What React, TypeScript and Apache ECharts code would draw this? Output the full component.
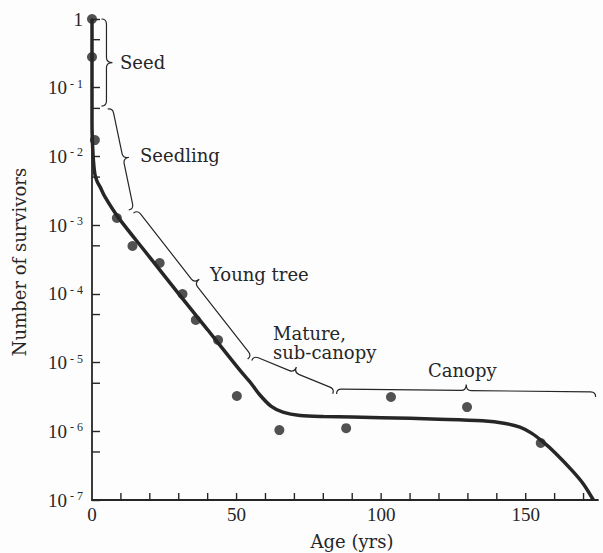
import { useEffect, useRef } from "react";
import * as echarts from "echarts";

// Observed survivors (dots)
const OBS_AGE = [0, 0, 1, 8.6, 14, 23.4, 31.3, 35.9, 43.6, 50.1, 64.8, 87.9, 103.4, 129.7, 155.2];
const OBS_SURV = [1, 0.28, 0.0173, 1.27e-3, 4.97e-4, 2.81e-4, 9.95e-5, 4.16e-5, 2.13e-5, 3.26e-6, 1.04e-6, 1.11e-6, 3.15e-6, 2.25e-6, 6.75e-7];

// Fitted survivorship curve
const CURVE_AGE = [0, 0, 0.4, 1.0, 1.8, 2.8, 4.5, 9, 20, 30, 40, 48, 52, 55, 58, 62, 66, 72, 80, 100, 120, 135, 143, 148, 152, 156, 160.3, 166, 170, 173.4];
const CURVE_SURV = [1, 0.03, 0.01, 5.5e-3, 4.3e-3, 3.6e-3, 2.57e-3, 1.31e-3, 3.4e-4, 1.0e-4, 3.0e-5, 1.13e-5, 7.0e-6, 5.0e-6, 3.4e-6, 2.3e-6, 1.9e-6, 1.7e-6, 1.64e-6, 1.58e-6, 1.5e-6, 1.42e-6, 1.3e-6, 1.15e-6, 9.4e-7, 7.0e-7, 4.8e-7, 2.7e-7, 1.7e-7, 1.0e-7];

// Life-stage braces (start / end in data coordinates)
const STAGES = ["Seed", "Seedling", "Young tree", "Mature,\nsub-canopy", "Canopy"];
const STAGE_START_AGE = [5.0, 7.1, 15.7, 55.9, 84.6];
const STAGE_START_SURV = [1, 0.0507, 1.66e-3, 1.25e-5, 4.12e-6];
const STAGE_END_AGE = [5.0, 14.4, 55.2, 83.9, 174.2];
const STAGE_END_SURV = [0.054, 1.72e-3, 1.25e-5, 4.12e-6, 3.73e-6];

const Y_MINOR_TICKS = [0.5, 0.05, 5e-3, 5e-4, 5e-5, 5e-6, 5e-7];
const X_TICKS = [10, 20, 30, 40, 50, 60, 70, 80, 90, 100, 110, 120, 130, 140, 150, 160, 170];
const X_LABELS = [0, 50, 100, 150];

const INK = "#262626";
const SERIF = "DejaVu Serif";
const TICK_FONT = "Liberation Serif";

function bracePath(a: number[], b: number[], h: number, k: number) {
  const dx = b[0] - a[0];
  const dy = b[1] - a[1];
  const L = Math.hypot(dx, dy) || 1;
  const ux = dx / L, uy = dy / L;
  const nx = uy, ny = -ux;
  const m = [(a[0] + b[0]) / 2, (a[1] + b[1]) / 2];
  const P = (p: number[], su: number, sn: number) =>
    `${(p[0] + ux * su + nx * sn).toFixed(2)},${(p[1] + uy * su + ny * sn).toFixed(2)}`;
  return (
    `M${P(a, 0, -h)} Q${P(a, 0, 0)} ${P(a, h, 0)} L${P(m, -h, 0)} Q${P(m, 0, 0)} ${P(m, 0, k)} ` +
    `M${P(m, 0, k)} Q${P(m, 0, 0)} ${P(m, h, 0)} L${P(b, -h, 0)} Q${P(b, 0, 0)} ${P(b, 0, -h)}`
  );
}

export default function App() {
  const ref = useRef<HTMLDivElement>(null);

  useEffect(() => {
    const chart = echarts.init(ref.current!, null, { renderer: "svg" });

    const curve = CURVE_AGE.map((x, i) => [x, CURVE_SURV[i]]);
    const dots = OBS_AGE.map((x, i) => [x, OBS_SURV[i]]);
    const braces = STAGES.map((_, i) => [STAGE_START_AGE[i], STAGE_START_SURV[i], STAGE_END_AGE[i], STAGE_END_SURV[i]]);
    const minorY = Y_MINOR_TICKS.map((v) => [0, v]);
    const ticksX = X_TICKS.map((v) => [v, 1e-7]);

    const textStyle = (text: string, x: number, y: number, extra: any = {}) => ({
      type: "text",
      x,
      y,
      silent: true,
      ...extra,
      style: {
        text,
        fill: INK,
        fontFamily: SERIF,
        fontSize: 18,
        align: "left",
        textAlign: "left",
        verticalAlign: "middle",
        textVerticalAlign: "middle",
        lineHeight: 19,
        ...(extra.style || {}),
      },
    });

    const option: any = {
      animation: false,
      backgroundColor: "#fdfdfd",
      grid: { left: 92, right: 5, top: 19, bottom: 53, containLabel: false },
      xAxis: {
        type: "value",
        min: 0,
        max: 175,
        interval: 10,
        splitLine: { show: false },
        axisLine: { show: true, onZero: false, lineStyle: { color: INK, width: 1.8 } },
        axisTick: { show: false },
        axisLabel: {
          margin: 5,
          fontFamily: TICK_FONT,
          fontSize: 19,
          color: INK,
          formatter: (v: number) => (X_LABELS.indexOf(v) >= 0 ? String(v) : ""),
        },
      },
      yAxis: {
        type: "log",
        logBase: 10,
        min: 1e-7,
        max: 1,
        splitNumber: 7,
        splitLine: { show: false },
        axisLine: { show: true, lineStyle: { color: INK, width: 1.8 } },
        axisTick: { show: true, inside: true, length: 8, lineStyle: { color: INK, width: 1.4 } },
        axisLabel: {
          margin: 9,
          color: INK,
          formatter: (v: number) => {
            const e = Math.round(Math.log10(v));
            return e === 0 ? "{b|1}" : `{b|10}{s|- ${-e}}`;
          },
          rich: {
            b: { fontFamily: TICK_FONT, fontSize: 19, color: INK, lineHeight: 20 },
            s: { fontFamily: TICK_FONT, fontSize: 12, color: INK, verticalAlign: "top", lineHeight: 12, padding: [0, 0, 0, 3] },
          },
        },
      },
      series: [
        {
          type: "scatter",
          data: dots,
          symbolSize: 10,
          clip: false,
          itemStyle: { color: INK },
          z: 3,
        },
        {
          type: "line",
          data: curve,
          showSymbol: false,
          symbol: "none",
          smooth: 0.3,
          clip: false,
          lineStyle: { color: INK, width: 3.5 },
          z: 4,
        },
        {
          type: "custom",
          data: minorY,
          clip: false,
          silent: true,
          renderItem: (_p: any, api: any) => {
            const pt = api.coord([0, api.value(1)]);
            return {
              type: "line",
              shape: { x1: pt[0], y1: pt[1], x2: pt[0] + 8, y2: pt[1] },
              style: { stroke: INK, lineWidth: 1.4 },
            };
          },
          z: 2,
        },
        {
          type: "custom",
          data: ticksX,
          clip: false,
          silent: true,
          renderItem: (_p: any, api: any) => {
            const pt = api.coord([api.value(0), 1e-7]);
            return {
              type: "line",
              shape: { x1: pt[0], y1: pt[1], x2: pt[0], y2: pt[1] - 7 },
              style: { stroke: INK, lineWidth: 1.4 },
            };
          },
          z: 2,
        },
        {
          type: "custom",
          data: braces,
          clip: false,
          silent: true,
          renderItem: (_p: any, api: any) => {
            const a = api.coord([api.value(0), api.value(1)]);
            const b = api.coord([api.value(2), api.value(3)]);
            return {
              type: "path",
              shape: { pathData: bracePath(a, b, 5, 6) },
              style: { fill: "none", stroke: INK, lineWidth: 1.2 },
            };
          },
          z: 2,
        },
      ],
      graphic: [
        textStyle(STAGES[0], 120, 62),
        textStyle(STAGES[1], 140, 155),
        textStyle(STAGES[2], 210, 274),
        textStyle(STAGES[3], 273, 343),
        textStyle(STAGES[4], 428, 370),
        textStyle("Number of survivors", 19, 262, {
          rotation: Math.PI / 2,
          style: { align: "center", textAlign: "center" },
        }),
        textStyle("Age (yrs)", 352, 541, { style: { align: "center", textAlign: "center" } }),
      ],
    };

    chart.setOption(option);
    return () => chart.dispose();
  }, []);

  return (
    <div
      ref={ref}
      style={{ position: "fixed", left: 0, top: 0, width: 603, height: 553, background: "#fdfdfd" }}
    />
  );
}
